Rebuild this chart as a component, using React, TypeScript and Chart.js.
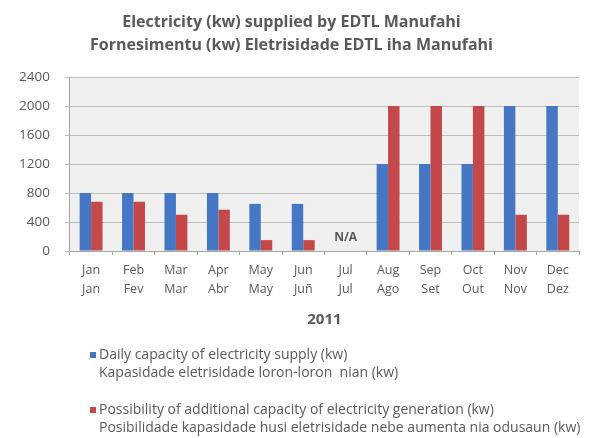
import React, { useEffect, useRef } from "react";
import { Chart, registerables } from "chart.js";

Chart.register(...registerables);

const titleLines = [
  "Electricity (kw) supplied by EDTL Manufahi",
  "Fornesimentu (kw) Eletrisidade EDTL iha Manufahi",
];
const monthsEn = ["Jan", "Feb", "Mar", "Apr", "May", "Jun", "Jul", "Aug", "Sep", "Oct", "Nov", "Dec"];
const monthsTet = ["Jan", "Fev", "Mar", "Abr", "May", "Juñ", "Jul", "Ago", "Set", "Out", "Nov", "Dez"];
const dailySupply = [800, 800, 800, 800, 650, 650, null, 1200, 1200, 1200, 2000, 2000];
const additionalCapacity = [680, 680, 500, 570, 150, 150, null, 2000, 2000, 2000, 500, 500];
const seriesNames = [
  ["Daily capacity of electricity supply (kw)", "Kapasidade eletrisidade loron-loron  nian (kw)"],
  [
    "Possibility of additional capacity of electricity generation (kw)",
    "Posibilidade kapasidade husi eletrisidade nebe aumenta nia odusaun (kw)",
  ],
];
const naIndex = 6;
const naText = "N/A";
const xTitle = "2011";
const yTicks = [0, 400, 800, 1200, 1600, 2000, 2400];

const FONT = "'Open Sans', 'Liberation Sans', sans-serif";
const GRAY = "#595959";

export default function App() {
  const ref = useRef<HTMLCanvasElement | null>(null);

  useEffect(() => {
    if (!ref.current) return;
    const bgPlugin = {
      id: "plotBg",
      beforeDraw(chart: any) {
        const { ctx, chartArea } = chart;
        ctx.save();
        ctx.fillStyle = "#f0f0f0";
        ctx.fillRect(chartArea.left, chartArea.top, chartArea.right - chartArea.left, chartArea.bottom - chartArea.top);
        ctx.restore();
      },
    };
    const naPlugin = {
      id: "naLabel",
      afterDatasetsDraw(chart: any) {
        const { ctx } = chart;
        const x = chart.scales.x.getPixelForValue(naIndex);
        const y = chart.scales.y.getPixelForValue(0);
        ctx.save();
        ctx.font = `bold 12px ${FONT}`;
        ctx.fillStyle = GRAY;
        ctx.textAlign = "center";
        ctx.textBaseline = "middle";
        ctx.fillText(naText, x, y - 13);
        ctx.restore();
      },
    };
    const legendPlugin = {
      id: "multiLegend",
      afterDraw(chart: any) {
        const { ctx } = chart;
        ctx.save();
        ctx.font = `14px ${FONT}`;
        ctx.textBaseline = "middle";
        ctx.textAlign = "left";
        const starts = [355, 410];
        chart.data.datasets.forEach((ds: any, i: number) => {
          const y0 = starts[i];
          ctx.fillStyle = ds.backgroundColor;
          ctx.fillRect(90, y0 - 3, 6, 6);
          ctx.fillStyle = GRAY;
          seriesNames[i].forEach((line, j) => {
            ctx.fillText(line, 99, y0 + j * 18);
          });
        });
        ctx.restore();
      },
    };

    const chart = new Chart(ref.current, {
      type: "bar",
      data: {
        labels: monthsEn.map((m, i) => [m, monthsTet[i]]),
        datasets: [
          {
            label: seriesNames[0].join(" "),
            data: dailySupply,
            backgroundColor: "#4677c4",
            categoryPercentage: 0.54,
            barPercentage: 1,
          },
          {
            label: seriesNames[1].join(" "),
            data: additionalCapacity,
            backgroundColor: "#c4474a",
            categoryPercentage: 0.54,
            barPercentage: 1,
          },
        ],
      },
      options: {
        animation: false,
        responsive: false,
        maintainAspectRatio: false,
        layout: { padding: { left: 4, right: 11, top: 0, bottom: 109.5 } },
        plugins: {
          legend: { display: false },
          tooltip: { enabled: false },
          title: {
            display: true,
            text: titleLines,
            color: GRAY,
            font: { family: FONT, size: 16, weight: "bold", lineHeight: 1.44 },
            padding: { top: 10.5, bottom: 20.5 },
          },
        },
        scales: {
          x: {
            grid: { display: true, drawOnChartArea: false, offset: true, tickLength: 4, color: "#a6a6a6" },
            border: { display: true, color: "#a6a6a6" },
            ticks: {
              color: GRAY,
              font: { family: FONT, size: 12.5, lineHeight: 1.5 },
              padding: 6,
              maxRotation: 0,
              autoSkip: false,
            },
            title: {
              display: true,
              text: xTitle,
              color: GRAY,
              font: { family: FONT, size: 15, weight: "bold", lineHeight: 1.2 },
              padding: { top: 6, bottom: 0 },
            },
          },
          y: {
            min: 0,
            max: 2400,
            afterBuildTicks(scale: any) {
              scale.ticks = yTicks.map((v) => ({ value: v }));
            },
            grid: { color: "#bdbdbd", tickLength: 5 },
            border: { display: true, color: "#a6a6a6" },
            ticks: {
              color: GRAY,
              font: { family: FONT, size: 13.5 },
              padding: 15,
              callback: (v: any) => String(v),
            },
          },
        },
      },
      plugins: [bgPlugin, naPlugin, legendPlugin],
    });
    return () => chart.destroy();
  }, []);

  return (
    <div style={{ position: "fixed", left: 0, top: 0, width: 590, height: 438, background: "#fff" }}>
      <canvas ref={ref} width={590} height={438} style={{ width: 590, height: 438 }} />
    </div>
  );
}
